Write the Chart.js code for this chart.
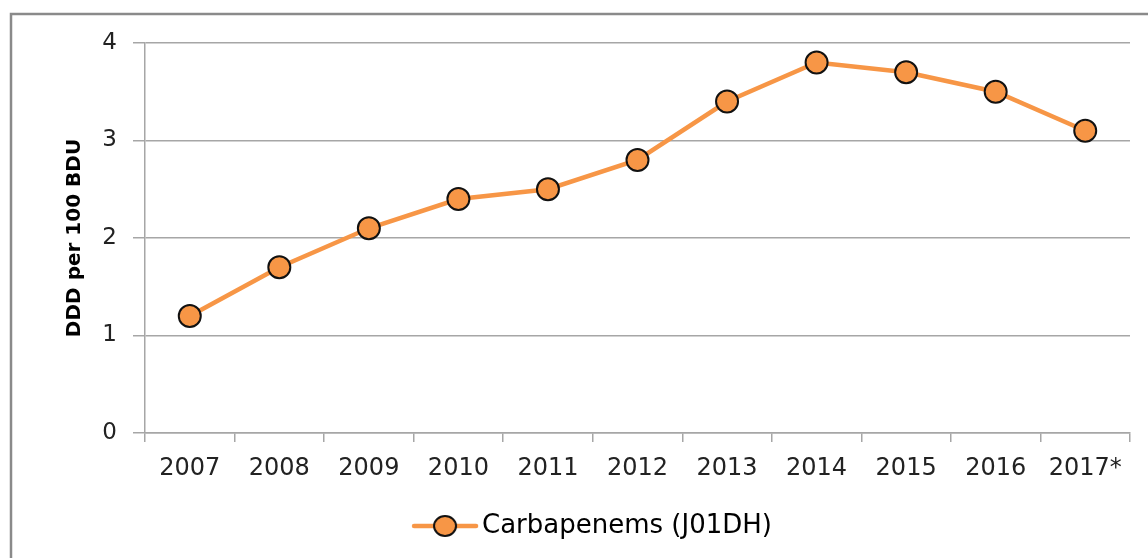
<!DOCTYPE html>
<html>
<head>
<meta charset="utf-8">
<script src="https://cdn.jsdelivr.net/npm/chart.js@4/dist/chart.umd.min.js"></script>
<style>
  html, body { margin: 0; padding: 0; background: #fff; }
  #wrap { position: relative; width: 1148px; height: 558px; }
</style>
</head>
<body>
<div id="wrap"><canvas id="c" width="1148" height="558"></canvas></div>
<script>
const categories = ['2007','2008','2009','2010','2011','2012','2013','2014','2015','2016','2017*'];
const carbapenems = [1.2, 1.7, 2.1, 2.4, 2.5, 2.8, 3.4, 3.8, 3.7, 3.5, 3.1];
const yTicks = [0, 1, 2, 3, 4];
const seriesLabel = 'Carbapenems (J01DH)';
const yTitle = 'DDD per 100 BDU';

const ORANGE = '#F79646';
const GRID = '#a6a6a6';

// legend icon: line with marker (content shifted right toward the text)
const icon = document.createElement('canvas');
icon.width = 88; icon.height = 26;
(function(){
  const g = icon.getContext('2d');
  g.strokeStyle = ORANGE; g.lineWidth = 4.5; g.lineCap = 'round';
  g.beginPath(); g.moveTo(23, 13); g.lineTo(85, 13); g.stroke();
  g.beginPath(); g.ellipse(54, 13, 11, 10, 0, 0, Math.PI*2);
  g.fillStyle = ORANGE; g.fill();
  g.lineWidth = 2; g.strokeStyle = '#111'; g.stroke();
})();

const framePlugin = {
  id: 'frame',
  beforeDraw(chart) {
    const ctx = chart.ctx;
    ctx.save();
    ctx.fillStyle = '#fff';
    ctx.fillRect(0, 0, chart.width, chart.height);
    ctx.strokeStyle = '#8a8a8a';
    ctx.lineWidth = 2.5;
    ctx.strokeRect(11, 14, 1200, 600);
    ctx.restore();
  }
};

new Chart(document.getElementById('c'), {
  type: 'line',
  data: {
    labels: categories,
    datasets: [{
      label: seriesLabel,
      data: carbapenems,
      borderColor: ORANGE,
      backgroundColor: ORANGE,
      borderWidth: 4.5,
      tension: 0,
      pointRadius: 11,
      pointHoverRadius: 11,
      pointBackgroundColor: ORANGE,
      pointBorderColor: '#111',
      pointBorderWidth: 2,
      pointStyle: 'circle',
      clip: false
    }]
  },
  options: {
    responsive: false,
    animation: false,
    events: [],
    layout: { padding: { left: 43, right: 18, top: 43, bottom: 9 } },
    plugins: {
      legend: {
        display: true,
        position: 'bottom',
        labels: {
          usePointStyle: true,
          pointStyle: icon,
          pointStyleWidth: 68,
          boxHeight: 26,
          padding: 10,
          color: '#222',
          font: { family: 'DejaVu Sans', size: 26 },
          generateLabels(chart) {
            return [{
              text: seriesLabel,
              pointStyle: icon,
              fillStyle: ORANGE,
              strokeStyle: ORANGE,
              lineWidth: 0,
              hidden: false,
              datasetIndex: 0
            }];
          }
        }
      },
      tooltip: { enabled: false }
    },
    scales: {
      x: {
        type: 'category',
        offset: true,
        border: { display: true, color: GRID, width: 1.5 },
        grid: {
          offset: true,
          drawOnChartArea: false,
          drawTicks: true,
          tickLength: 9,
          color: GRID,
          lineWidth: 1.5
        },
        ticks: {
          color: '#222',
          font: { family: 'DejaVu Sans', size: 24 },
          padding: 12,
          maxRotation: 0,
          autoSkip: false
        },
        afterFit(scale) { scale.height = 70; }
      },
      y: {
        min: 0,
        max: 4,
        afterBuildTicks(scale) { scale.ticks = yTicks.map(v => ({ value: v })); },
        border: { display: true, color: GRID, width: 1.5 },
        grid: {
          color: GRID,
          lineWidth: 1.5,
          drawTicks: true,
          tickLength: 12
        },
        ticks: {
          color: '#222',
          font: { family: 'DejaVu Sans', size: 23 },
          padding: 16
        },
        title: {
          display: true,
          text: yTitle,
          color: '#000',
          font: { family: 'DejaVu Sans', size: 20, weight: 'bold' },
          padding: { top: 20, bottom: 0 }
        },
        afterFit(scale) { scale.width = 102; }
      }
    }
  },
  plugins: [framePlugin]
});
</script>
</body>
</html>
